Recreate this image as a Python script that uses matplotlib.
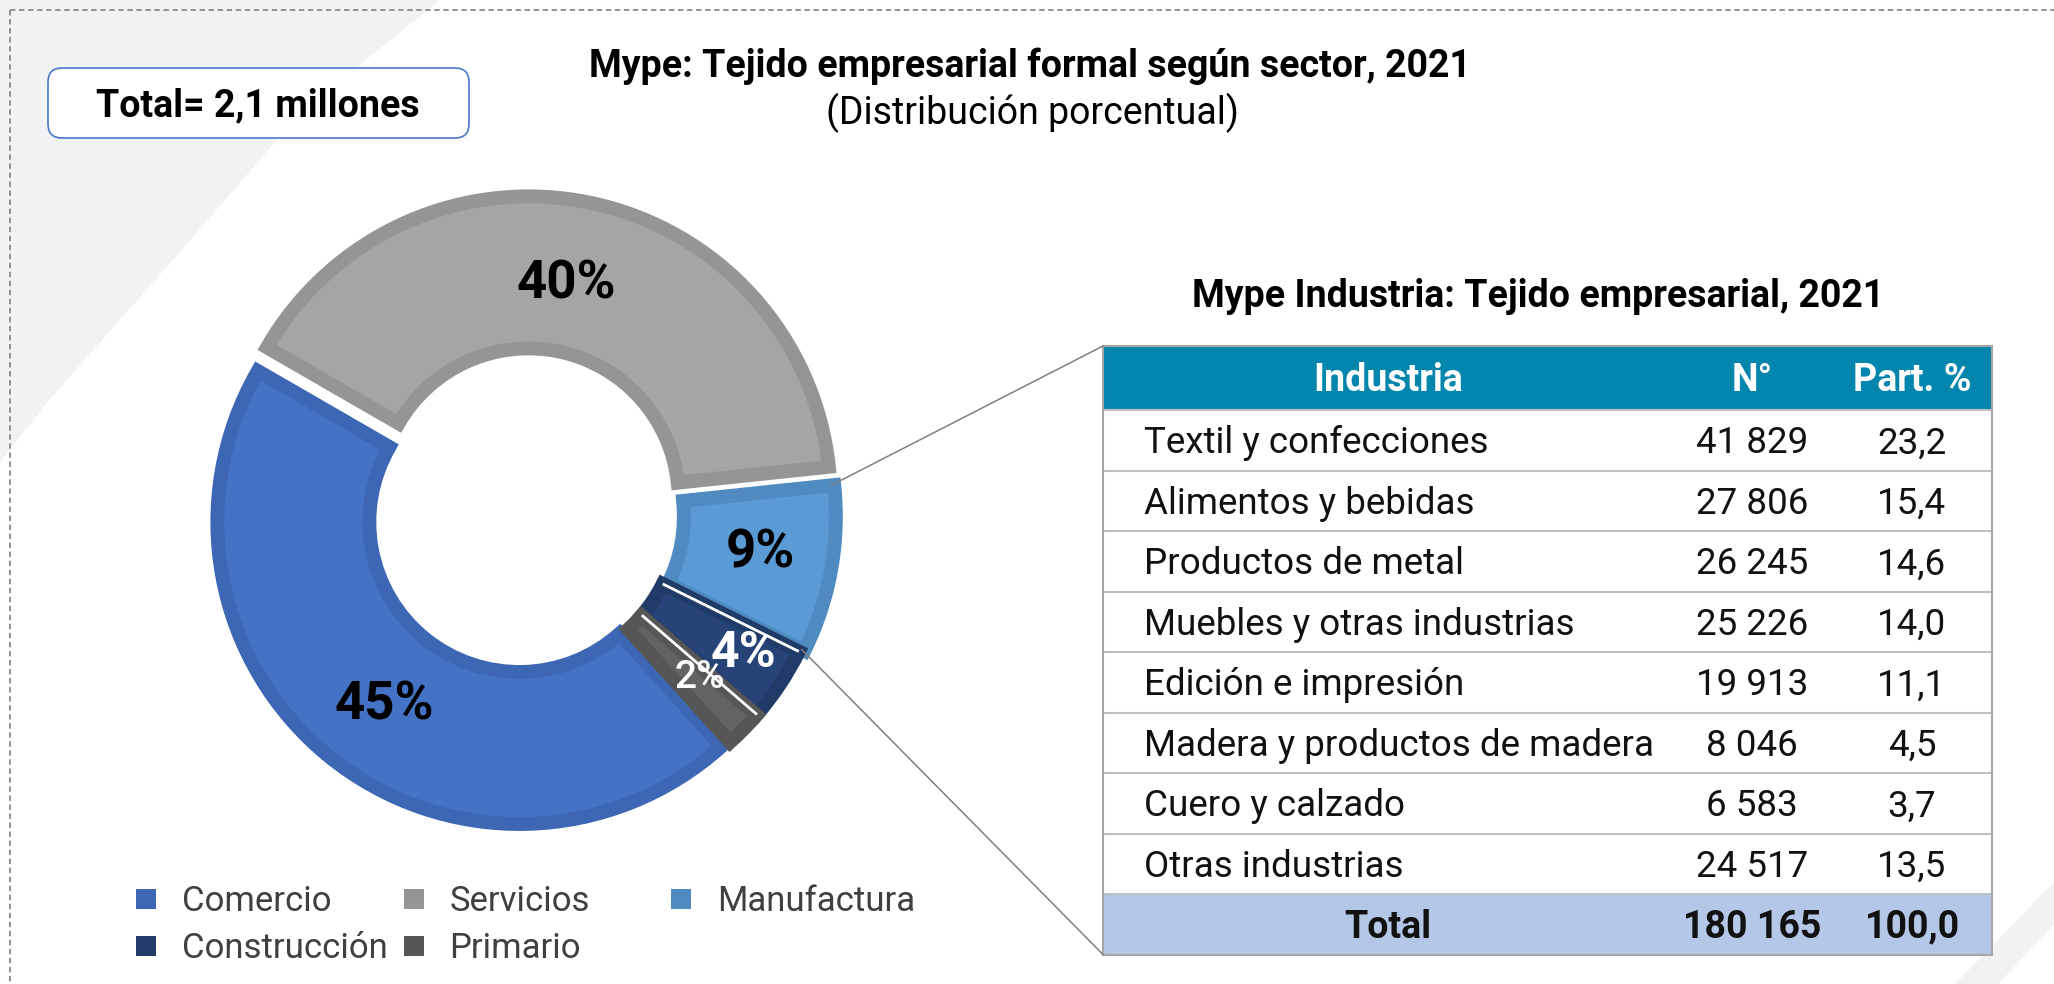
import matplotlib
matplotlib.use("Agg")
import math
import matplotlib.pyplot as plt
from matplotlib.patches import Rectangle, FancyBboxPatch, Polygon

W, H = 2054, 984

# ---- data ---------------------------------------------------------------
sectors = ["Comercio", "Servicios", "Manufactura", "Construcción", "Primario"]
sector_share = [45, 40, 9, 4, 2]

industries = [
    "Textil y confecciones",
    "Alimentos y bebidas",
    "Productos de metal",
    "Muebles y otras industrias",
    "Edición e impresión",
    "Madera y productos de madera",
    "Cuero y calzado",
    "Otras industrias",
]
industry_firms = [41829, 27806, 26245, 25226, 19913, 8046, 6583, 24517]
industry_share = [23.2, 15.4, 14.6, 14.0, 11.1, 4.5, 3.7, 13.5]
table_header = ["Industria", "N°", "Part. %"]

title = "Mype: Tejido empresarial formal según sector, 2021"
subtitle = "(Distribución porcentual)"
table_title = "Mype Industria: Tejido empresarial, 2021"
total_note = "Total= 2,1 millones"

# ---- style --------------------------------------------------------------
fill_colors = ["#4472C4", "#A5A5A5", "#5B9BD5", "#264478", "#636363"]
edge_colors = ["#3D67B5", "#959595", "#4F8AC1", "#213B69", "#565656"]
pct_colors = ["black", "black", "black", "white", "white"]
pct_weights = ["bold", "bold", "bold", "bold", "medium"]
pct_sizes = [38, 38, 38, 36, 28]
pct_radial_shift = [-2, -4, 3, 26, 6]
HEADER_BLUE = "#0386AE"
TOTAL_BLUE = "#B4C7E7"
GRID = "#BFBFBF"

plt.rcParams["font.family"] = ["Roboto", "DejaVu Sans"]

fig = plt.figure(figsize=(W / 100, H / 100), dpi=100)
ax = fig.add_axes([0, 0, 1, 1])

PX = 100 / 72  # pixels per point


def sy(y):
    """Screen y (from top) to data y."""
    return H - y


def put(x, y, s, size, weight="normal", color="black", ha="center", z=10):
    """Place text with the middle of its capitals at screen (x, y)."""
    cap = 0.711 * size * PX
    ax.text(x, sy(y) - cap / 2, s, fontsize=size, fontweight=weight,
            color=color, ha=ha, va="baseline", zorder=z)


# ---- background decoration ---------------------------------------------
ax.add_patch(Polygon([(0, sy(0)), (440, sy(0)), (357, sy(67)), (277, sy(140)),
                      (179, sy(253)), (49, sy(400)), (0, sy(462))],
                     closed=True, fc="#F1F2F4", ec="none", zorder=0))
ax.add_patch(Polygon([(1955, sy(984)), (2054, sy(882)), (2054, sy(925)),
                      (1998, sy(984))],
                     closed=True, fc="#F1F2F4", ec="none", zorder=0))
ax.plot([10, W], [sy(10), sy(10)], color="#8A8A8A", lw=1.3,
        ls=(0, (3, 2)), zorder=1)
ax.plot([10, 10], [sy(10), 0], color="#8A8A8A", lw=1.3,
        ls=(0, (3, 2)), zorder=1)

# ---- donut --------------------------------------------------------------
cx, cy = 525, 515
R, r = 302, 150
explode_px = [9, 17, 9, 4, 4]
wedges, _ = ax.pie(sector_share, radius=R, center=(cx, sy(cy)),
                   startangle=-48, counterclock=False, colors=fill_colors,
                   explode=explode_px,
                   wedgeprops=dict(width=R - r, linewidth=0))
for w, ec in zip(wedges, edge_colors):
    w.set_edgecolor(ec)
    w.set_linewidth(10)
    w.set_clip_path(w)   # keep the outline on the inside of each segment
    w.set_zorder(3)

# thin white separators on both sides of the Construcción segment
wk = wedges[sectors.index("Construcción")]
for ang in (wk.theta1, wk.theta2):
    a = math.radians(ang)
    ax.plot([wk.center[0] + r * math.cos(a), wk.center[0] + R * math.cos(a)],
            [wk.center[1] + r * math.sin(a), wk.center[1] + R * math.sin(a)],
            color="white", lw=2.0, zorder=4, solid_capstyle="butt")

for w, v, c, wt, fs, dr in zip(wedges, sector_share, pct_colors, pct_weights,
                               pct_sizes, pct_radial_shift):
    tm = math.radians((w.theta1 + w.theta2) / 2 + 2)
    rad = (R + r) / 2 + math.hypot(w.center[0] - cx, w.center[1] - sy(cy)) + dr
    x = cx + rad * math.cos(tm)
    y = H - (sy(cy) + rad * math.sin(tm))
    put(x, y, f"{v}%", fs, weight=wt, color=c, z=6)

# ---- table --------------------------------------------------------------
tx0, tx1 = 1103, 1992
head_top, head_h, row_h = 346, 64, 60.5
body_top = head_top + head_h
n_rows = len(industries)
total_top = body_top + n_rows * row_h
table_bottom = total_top + row_h
col_name_x, col_name_c, col_n_c, col_p_c = 1144, 1388, 1752, 1912

ax.add_patch(Rectangle((tx0, sy(body_top)), tx1 - tx0, head_h,
                       fc=HEADER_BLUE, ec="none", zorder=2))
ax.add_patch(Rectangle((tx0, sy(table_bottom)), tx1 - tx0, row_h,
                       fc=TOTAL_BLUE, ec="none", zorder=2))
for i in range(n_rows + 2):
    yy = head_top + (head_h + (i - 1) * row_h if i > 0 else 0)
    ax.plot([tx0, tx1], [sy(yy), sy(yy)], color=GRID if i else "#A6A6A6",
            lw=1.5, zorder=5, solid_capstyle="butt")
ax.plot([tx0, tx1], [sy(table_bottom), sy(table_bottom)], color="#A6A6A6",
        lw=1.5, zorder=5)
for xx in (tx0, tx1):
    ax.plot([xx, xx], [sy(head_top), sy(table_bottom)], color="#A6A6A6",
            lw=1.5, zorder=5)

hy = head_top + head_h / 2
for s, x in zip(table_header, (col_name_c, col_n_c, col_p_c)):
    put(x, hy, s, 27, weight="bold", color="white")


def fmt_int(n):
    return f"{n:,}".replace(",", " ")


def fmt_pct(p):
    return f"{p:.1f}".replace(".", ",")


for i, (name, n, p) in enumerate(zip(industries, industry_firms, industry_share)):
    yc = body_top + (i + 0.5) * row_h
    put(col_name_x, yc, name, 26.5, color="#111111", ha="left")
    put(col_n_c, yc, fmt_int(n), 26.5, color="#111111")
    put(col_p_c, yc, fmt_pct(p), 26.5, color="#111111")

yc = total_top + row_h / 2
put(col_name_c, yc, "Total", 27, weight="bold", color="#111111")
put(col_n_c, yc, fmt_int(sum(industry_firms)), 27, weight="bold", color="#111111")
put(col_p_c, yc, fmt_pct(sum(industry_share)), 27, weight="bold", color="#111111")

# callout lines from the Manufactura segment to the table
wm = wedges[sectors.index("Manufactura")]
for ang, ty in ((wm.theta2, head_top), (wm.theta1, table_bottom)):
    a = math.radians(ang)
    x0 = wm.center[0] + (R - 3) * math.cos(a)
    y0 = wm.center[1] + (R - 3) * math.sin(a)
    ax.plot([x0, tx0], [y0, sy(ty)], color="#7F7F7F", lw=1.1, zorder=5)

# ---- titles -------------------------------------------------------------
put(1030, 63.5, title, 27, weight="bold")
put(1032, 111, subtitle, 27)
put(1538, 294, table_title, 27, weight="bold")

ax.add_patch(FancyBboxPatch((48, sy(138)), 421, 70,
                            boxstyle="round,pad=0,rounding_size=14",
                            fc="white", ec="#4A78C8", lw=1.2, zorder=2))
put(258, 103, total_note, 27, weight="bold")

# ---- legend -------------------------------------------------------------
leg_x0, leg_dx, leg_y0, leg_dy = 136, 267.5, 899, 47
for k, (name, fc, ec) in enumerate(zip(sectors, fill_colors, edge_colors)):
    row, col = divmod(k, 3)
    mx = leg_x0 + col * leg_dx
    my = leg_y0 + row * leg_dy
    ax.add_patch(Rectangle((mx, sy(my + 10)), 20, 20, fc=ec, ec="none", zorder=3))
    put(mx + 46, my, name, 25, color="#404040", ha="left")

ax.set_xlim(0, W)
ax.set_ylim(0, H)
ax.set_aspect("equal")
ax.axis("off")

fig.savefig("out.png", dpi=100, facecolor="white")
